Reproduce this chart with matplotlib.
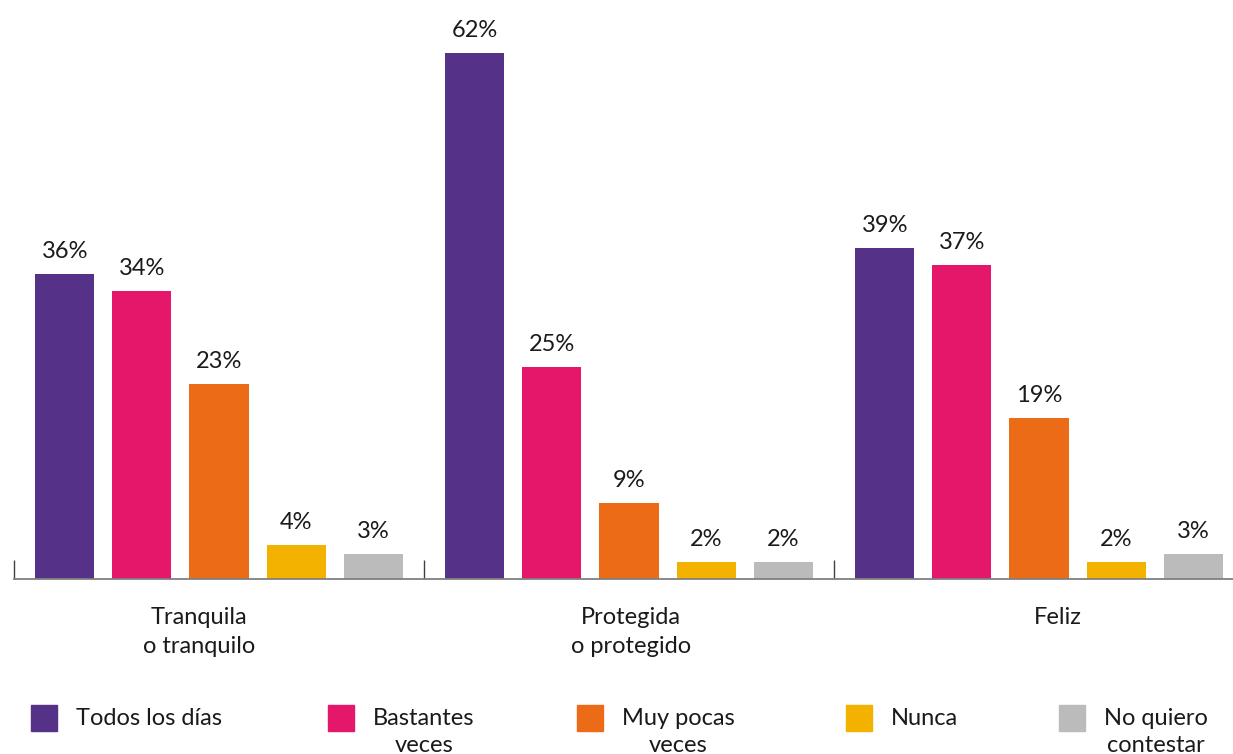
import matplotlib
matplotlib.use("Agg")
import matplotlib.pyplot as plt
from matplotlib.patches import Rectangle

plt.rcParams['font.family'] = ['Lato', 'DejaVu Sans']

categories = ["Tranquila\no tranquilo", "Protegida\no protegido", "Feliz"]
series_names = ["Todos los días", "Bastantes\nveces", "Muy pocas\nveces", "Nunca", "No quiero\ncontestar"]
series_colors = ["#553288", "#E5176A", "#EC6B17", "#F4B200", "#BBBBBB"]
values = [
    [36, 62, 39],   # Todos los días
    [34, 25, 37],   # Bastantes veces
    [23, 9, 19],    # Muy pocas veces
    [4, 2, 2],      # Nunca
    [3, 2, 3],      # No quiero contestar
]
value_labels = [
    ["36%", "62%", "39%"],
    ["34%", "25%", "37%"],
    ["23%", "9%", "19%"],
    ["4%", "2%", "2%"],
    ["3%", "2%", "3%"],
]

W, H = 1233, 754
fig = plt.figure(figsize=(W / 100, H / 100), dpi=100)
FS = 17
TXT = "#1a1a1a"

# axes in pixel coords: x from 14 to 1244, baseline at y=579 (from top), top ~2
ax_left, ax_right = 14, 1244
ax_bottom, ax_top = 579, 2
ax = fig.add_axes([ax_left / W, (H - ax_bottom) / H, (ax_right - ax_left) / W, (ax_bottom - ax_top) / H])
ax.set_xlim(-0.5, 2.5)
ax.set_ylim(0, 68)

bar_w = 0.144
step = 0.188
for i, (vals, labs, col) in enumerate(zip(values, value_labels, series_colors)):
    xs = [g + (i - 2) * step for g in range(len(categories))]
    bars = ax.bar(xs, vals, width=bar_w, color=col, zorder=2)
    for b, lab in zip(bars, labs):
        ax.annotate(lab, (b.get_x() + b.get_width() / 2, b.get_height()),
                    xytext=(0, 11.5), textcoords="offset points",
                    ha="center", va="baseline", fontsize=FS, color=TXT)

for s in ["top", "right", "left"]:
    ax.spines[s].set_visible(False)
ax.spines["bottom"].set_color("#808080")
ax.spines["bottom"].set_linewidth(1.3)
ax.set_yticks([])
ax.set_xticks([-0.5, 0.5, 1.5])
ax.set_xticklabels([])
ax.tick_params(axis="x", direction="in", length=14, width=1.0, color="#404040")

# category labels
cat_offsets_px = [-20, 2, 19]
for g, (cat, off) in enumerate(zip(categories, cat_offsets_px)):
    ax.annotate(cat, (g, 0), xytext=(off * 0.72, -20.5), textcoords="offset points",
                ha="center", va="top", fontsize=FS, color=TXT,
                multialignment="center", linespacing=1.45)

# legend (manual)
sq_x = [31, 328, 577, 846, 1059]
sq_size = 26
sq_top = 705
for name, col, x in zip(series_names, series_colors, sq_x):
    fig.patches.append(Rectangle((x / W, (H - sq_top - sq_size) / H), sq_size / W, sq_size / H,
                                 transform=fig.transFigure, color=col))
    fig.text((x + sq_size + 19) / W, (H - 708) / H, name, ha="left", va="top",
             fontsize=FS, color=TXT, multialignment="center", linespacing=1.35)

fig.savefig("out.png", dpi=100)
